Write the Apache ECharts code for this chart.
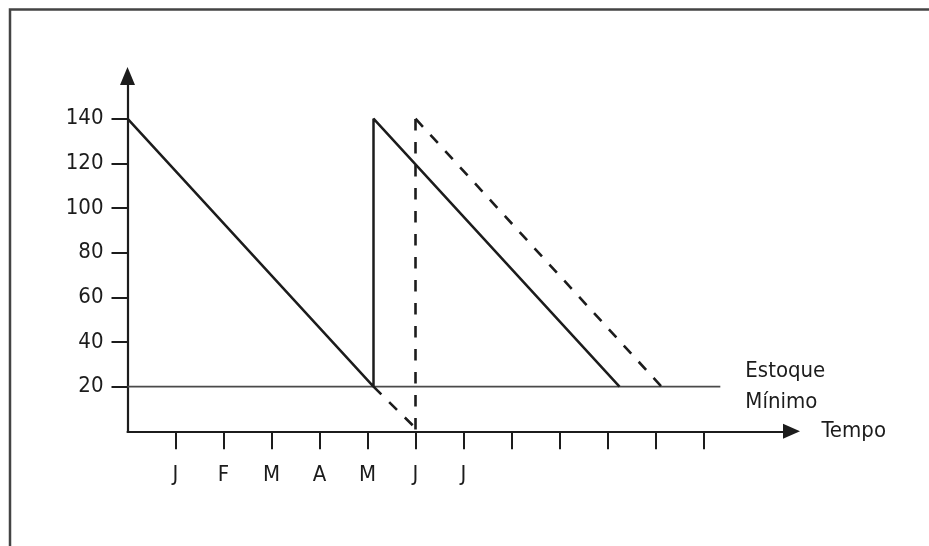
<!DOCTYPE html>
<html>
<head>
<meta charset="utf-8">
<script src="https://cdn.jsdelivr.net/npm/echarts@6/dist/echarts.min.js"></script>
<style>
html,body{margin:0;padding:0;background:#fff;}
#chart{width:929px;height:546px;}
</style>
</head>
<body>
<div id="chart"></div>
<script>
// ---- data ----
var monthLabels = ['J', 'F', 'M', 'A', 'M', 'J', 'J'];
var monthTickValues = [1, 2, 3, 4, 5, 6, 7, 8, 9, 10, 11, 12];
var monthLabelValues = [1, 2, 3, 4, 5, 6, 7];
var yTickValues = [20, 40, 60, 80, 100, 120, 140];
var consumoReal = [[0, 140], [5.125, 20], [5.125, 140], [10.25, 20]];
var prolongamento = [[5.125, 20], [5.95, 2.5]];
var reposicaoPrevista = [[6, 0.8], [6, 140]];
var consumoPrevisto = [[6, 140], [11.125, 20]];
var estoqueMinimo = [[0, 20], [12.35, 20]];

var FONT = '"Liberation Sans Narrow", "DejaVu Sans Condensed", "Roboto", sans-serif';
var INK = '#1c1c1c';

var chart = echarts.init(document.getElementById('chart'), null, {renderer: 'canvas'});
chart.setOption({
  animation: false,
  backgroundColor: '#fff',
  graphic: [{
    type: 'rect',
    shape: {x: 10, y: 9.5, width: 1000, height: 600},
    style: {fill: 'none', stroke: '#444', lineWidth: 2.5},
    silent: true
  }],
  grid: {left: 127.5, top: 76, width: 664, height: 355.3},
  xAxis: {
    type: 'value', min: 0, max: 13.833,
    name: 'Tempo', nameLocation: 'end', nameGap: 30,
    nameTextStyle: {fontFamily: FONT, fontSize: 22, color: INK, verticalAlign: 'middle', padding: [12, 0, 0, 0]},
    axisLine: {show: true, symbol: ['none', 'triangle'], symbolSize: [15, 17], lineStyle: {color: INK, width: 2.2}},
    axisTick: {show: true, inside: false, length: 18, customValues: monthTickValues, lineStyle: {color: INK, width: 2}},
    axisLabel: {
      show: true, customValues: monthLabelValues, margin: 33,
      fontFamily: FONT, fontSize: 22, color: INK,
      formatter: function (v) { return monthLabels[Math.round(v) - 1] || ''; }
    },
    splitLine: {show: false}
  },
  yAxis: {
    type: 'value', min: 0, max: 159.1,
    axisLine: {show: true, symbol: ['none', 'triangle'], symbolSize: [15, 18], lineStyle: {color: INK, width: 2.2}},
    axisTick: {show: true, inside: false, length: 16, customValues: yTickValues, lineStyle: {color: INK, width: 2}},
    axisLabel: {show: true, customValues: yTickValues, margin: 24, fontFamily: FONT, fontSize: 22, color: INK},
    splitLine: {show: false}
  },
  series: [
    {
      type: 'line', data: estoqueMinimo, symbol: 'none', silent: true,
      lineStyle: {color: '#4a4a4a', width: 1.8},
      endLabel: {
        show: true, formatter: 'Estoque\nMínimo', distance: 25,
        fontFamily: FONT, fontSize: 22, lineHeight: 31, color: INK, align: 'left'
      }
    },
    {
      type: 'line', data: consumoReal, symbol: 'none', silent: true,
      lineStyle: {color: INK, width: 2.5}
    },
    {
      type: 'line', data: prolongamento, symbol: 'none', silent: true,
      lineStyle: {color: INK, width: 2.6, type: [11, 11]}
    },
    {
      type: 'line', data: reposicaoPrevista, symbol: 'none', silent: true,
      lineStyle: {color: INK, width: 2.6, type: [11.5, 11.5]}
    },
    {
      type: 'line', data: consumoPrevisto, symbol: 'none', silent: true,
      lineStyle: {color: INK, width: 2.6, type: [11, 11]}
    }
  ]
});
</script>
</body>
</html>
